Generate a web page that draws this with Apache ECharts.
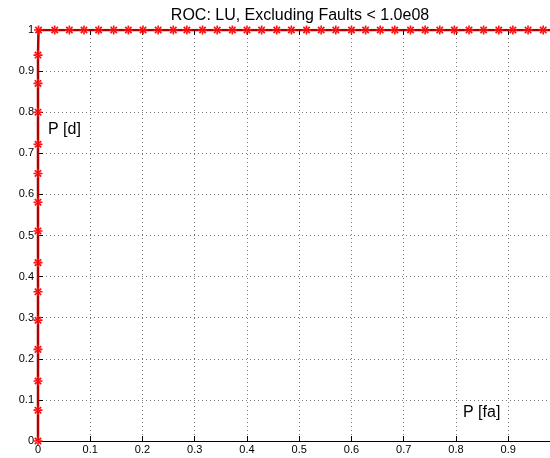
<!DOCTYPE html>
<html>
<head>
<meta charset="utf-8">
<script src="https://cdn.jsdelivr.net/npm/echarts@6/dist/echarts.min.js"></script>
<style>html,body{margin:0;padding:0;background:#fff;}#c{width:550px;height:458px;}</style>
</head>
<body>
<div id="c"></div>
<script>
var titleText = 'ROC: LU, Excluding Faults < 1.0e08';
var xTicks = [0, 0.1, 0.2, 0.3, 0.4, 0.5, 0.6, 0.7, 0.8, 0.9];
var yTicks = [0, 0.1, 0.2, 0.3, 0.4, 0.5, 0.6, 0.7, 0.8, 0.9, 1];
// P[d] values along P[fa] = 0
var pdAtZero = [0, 0.075, 0.146, 0.223, 0.294, 0.363, 0.434, 0.511, 0.581, 0.651, 0.722, 0.800, 0.870, 0.939];
// P[fa] values along P[d] = 1
var pfaAtOne = [0.001, 0.032, 0.060, 0.088, 0.116, 0.145, 0.173, 0.201, 0.230, 0.259, 0.285, 0.315, 0.343, 0.372,
  0.400, 0.428, 0.457, 0.485, 0.514, 0.542, 0.570, 0.600, 0.627, 0.655, 0.683, 0.713, 0.741, 0.769, 0.797,
  0.825, 0.853, 0.882, 0.909, 0.938, 0.967, 0.995];

var pts = [];
pdAtZero.forEach(function (v) { pts.push([0, v]); });
pfaAtOne.forEach(function (v) { pts.push([v, 1]); });

var star = 'path://M-0.9,-5 L0.9,-5 L0.9,5 L-0.9,5 Z M-5,-0.9 L5,-0.9 L5,0.9 L-5,0.9 Z ' +
  'M-2.9,-4.2 L4.2,2.9 L2.9,4.2 L-4.2,-2.9 Z M-2.9,4.2 L4.2,-2.9 L2.9,-4.2 L-4.2,2.9 Z';

var chart = echarts.init(document.getElementById('c'), null, {renderer: 'canvas'});
var font = 'Liberation Sans, Arial, Helvetica, sans-serif';
function fmt(v) {
  for (var i = 0; i < xTicks.length; i++) if (Math.abs(v - xTicks[i]) < 1e-6) return String(xTicks[i]);
  for (var j = 0; j < yTicks.length; j++) if (Math.abs(v - yTicks[j]) < 1e-6) return String(yTicks[j]);
  return '';
}
var gridLine = {show: true, lineStyle: {color: '#777', width: 1, type: [1, 3]}};
chart.setOption({
  animation: false,
  backgroundColor: '#fff',
  title: {text: titleText, left: 295, top: 3, textAlign: 'center',
    textStyle: {fontFamily: font, fontSize: 16, fontWeight: 'normal', color: '#000'}},
  grid: {left: 38, right: 0, top: 30, bottom: 17, containLabel: false},
  xAxis: [{
    type: 'value', min: 0, max: 0.98, interval: 0.1, position: 'bottom',
    axisLine: {show: true, onZero: false, lineStyle: {color: '#000', width: 1}},
    axisTick: {show: true, inside: true, length: 5, lineStyle: {color: '#000'}},
    axisLabel: {show: true, formatter: fmt, color: '#000', fontFamily: font, fontSize: 11, margin: 3, showMaxLabel: false},
    splitLine: gridLine
  }, {
    type: 'value', min: 0, max: 0.98, interval: 0.1, position: 'top',
    axisLine: {show: true, onZero: false, lineStyle: {color: '#000', width: 1}},
    axisTick: {show: true, inside: true, length: 5, lineStyle: {color: '#000'}},
    axisLabel: {show: false}, splitLine: {show: false}
  }],
  yAxis: [{
    type: 'value', min: 0, max: 1, interval: 0.1, position: 'left',
    axisLine: {show: true, onZero: false, lineStyle: {color: '#000', width: 1}},
    axisTick: {show: true, inside: true, length: 5, lineStyle: {color: '#000'}},
    axisLabel: {show: true, formatter: fmt, color: '#000', fontFamily: font, fontSize: 11, margin: 4},
    splitLine: gridLine
  }],
  series: [{
    type: 'line', data: pts, xAxisIndex: 0, yAxisIndex: 0,
    lineStyle: {color: '#b00000', width: 2.5},
    symbol: star, symbolSize: 9, showAllSymbol: true,
    itemStyle: {color: '#ff1010'},
    clip: true, z: 5
  }],
  graphic: [
    {type: 'text', left: 48, top: 122, style: {text: 'P [d]', font: '16px ' + font, fill: '#000'}},
    {type: 'text', left: 463, top: 405, style: {text: 'P [fa]', font: '16px ' + font, fill: '#000'}}
  ]
});
</script>
</body>
</html>
